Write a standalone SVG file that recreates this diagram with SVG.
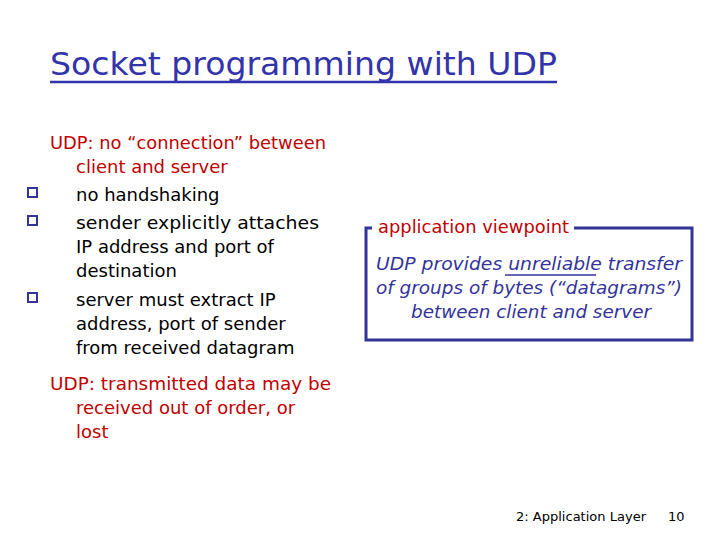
<svg xmlns="http://www.w3.org/2000/svg" width="720" height="540" viewBox="0 0 720 540">
<style>
text{font-family:"DejaVu Sans","Liberation Sans",sans-serif}
.t{fill:#3333AA;font-size:32px}
.b{fill:#000;font-size:18px}
.r{fill:#C00000;font-size:18px}
.i{fill:#333399;font-size:18px;font-style:italic;text-anchor:middle}
.f{fill:#000;font-size:13px}
.bul{fill:none;stroke:#333399;stroke-width:2}
</style>
<rect width="720" height="540" fill="#fff"/>
<g id="title">
<text class="t" x="50" y="75" textLength="507" lengthAdjust="spacingAndGlyphs">Socket programming with UDP</text>
<line x1="50" y1="82" x2="557" y2="82" stroke="#3333AA" stroke-width="2.5"/>
</g>
<g id="left">
<text class="r" x="50" y="149" textLength="276" lengthAdjust="spacingAndGlyphs">UDP: no “connection” between</text>
<text class="r" x="76" y="173">client and server</text>
<rect class="bul" x="28" y="188" width="9" height="9"/>
<text class="b" x="76" y="201">no handshaking</text>
<rect class="bul" x="28" y="216" width="9" height="9"/>
<text class="b" x="76" y="229" textLength="243" lengthAdjust="spacingAndGlyphs">sender explicitly attaches</text>
<text class="b" x="76" y="253">IP address and port of</text>
<text class="b" x="76" y="277">destination</text>
<rect class="bul" x="28" y="293" width="9" height="9"/>
<text class="b" x="76" y="306">server must extract IP</text>
<text class="b" x="76" y="330">address, port of sender</text>
<text class="b" x="76" y="354">from received datagram</text>
<text class="r" x="50" y="390" textLength="281" lengthAdjust="spacingAndGlyphs">UDP: transmitted data may be</text>
<text class="r" x="76" y="414">received out of order, or</text>
<text class="r" x="76" y="438">lost</text>
</g>
<g id="box">
<path d="M574 228 H692 V340 H366 V228 H372" fill="none" stroke="#333399" stroke-width="3"/>
<text fill="#C00000" font-size="18" x="378" y="233" textLength="191" lengthAdjust="spacingAndGlyphs">application viewpoint</text>
<text class="i" x="529" y="270" textLength="306" lengthAdjust="spacingAndGlyphs">UDP provides unreliable transfer</text>
<line x1="505" y1="275" x2="596" y2="275" stroke="#333399" stroke-width="1.5"/>
<text class="i" x="529" y="294" textLength="306" lengthAdjust="spacingAndGlyphs">of groups of bytes (“datagrams”)</text>
<text class="i" x="531" y="318" textLength="240" lengthAdjust="spacingAndGlyphs">between client and server</text>
</g>
<g id="footer">
<text class="f" x="516" y="521" textLength="130" lengthAdjust="spacingAndGlyphs">2: Application Layer</text>
<text class="f" x="668" y="521">10</text>
</g>
</svg>
